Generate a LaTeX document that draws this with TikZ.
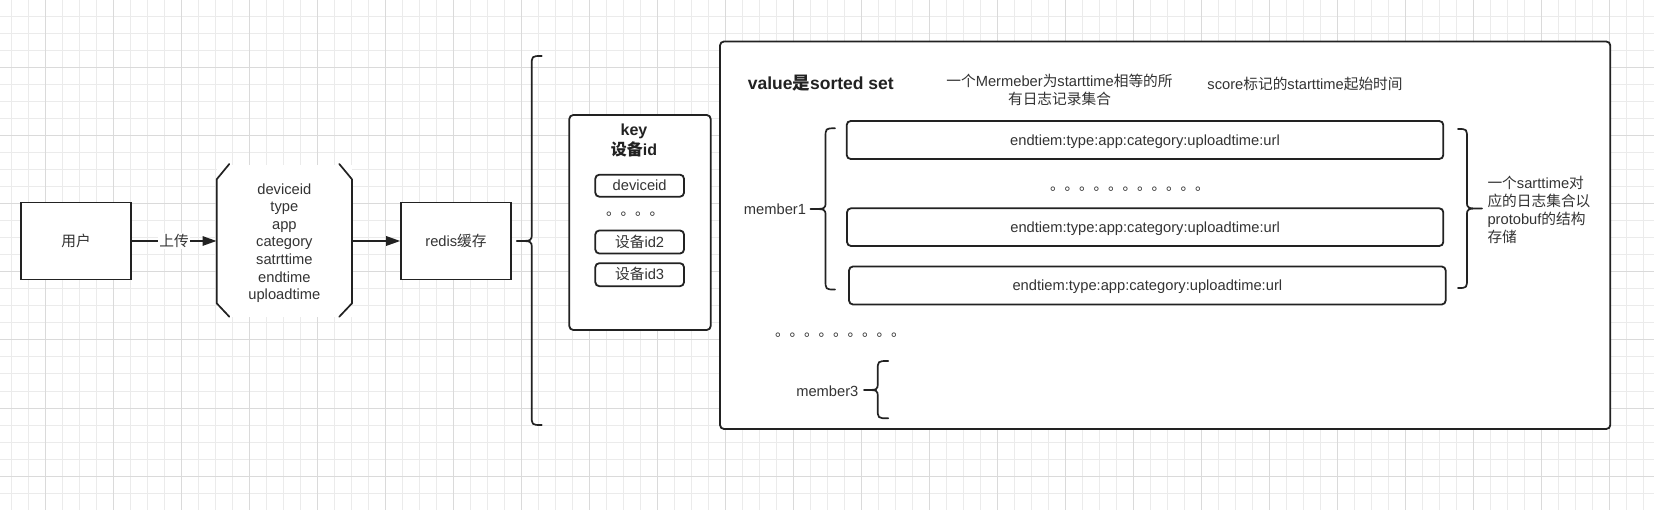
\documentclass[tikz,border=0pt]{standalone}
\usepackage{fontspec}
\setmainfont{Liberation Sans}
\newfontfamily\zhfont{Noto Sans CJK SC}
\usetikzlibrary{arrows.meta}
\newcommand\zh[1]{{\zhfont #1}}
\definecolor{ink}{HTML}{222222}
\definecolor{txt}{HTML}{333333}
\definecolor{gridminor}{HTML}{EBEBEB}
\definecolor{gridmajor}{HTML}{DADADA}
\tikzset{
  box/.style={draw=ink, line width=1.6pt, fill=white, inner sep=0pt, text=txt,
    font=\fontsize{14.7}{17.6}\selectfont},
  rbox/.style={box, rounded corners=4pt},
  ibox/.style={rbox, line width=1.8pt, text height=12pt, text depth=1.8pt},
  lbl/.style={text=txt, inner sep=0pt, font=\fontsize{14.7}{17.6}\selectfont},
  title/.style={text=ink, inner sep=0pt, font=\fontsize{16}{19.3}\selectfont\bfseries},
  dots/.style={text=txt, inner sep=0pt, anchor=base west, font=\fontsize{14.5}{17}\selectfont\zhfont},
  arr/.style={draw=ink, line width=1.5pt, -{Triangle[length=14pt,width=9.5pt]}},
  bracestyle/.style={draw=ink, line width=1.7pt, line cap=round, line join=round},
}
% curly brace: x of ends, x of spine, x of tip, y top, y tip, y bottom
\newcommand\curlyb[6]{\draw[bracestyle] (#1,#4) .. controls (#2,#4) .. (#2,#4+10) -- (#2,#5-7) .. controls (#2,#5) .. (#3,#5) .. controls (#2,#5) .. (#2,#5+7) -- (#2,#6-10) .. controls (#2,#6) .. (#1,#6);}
\begin{document}
\begin{tikzpicture}[x=1pt,y=-1pt]
\useasboundingbox (0,0) rectangle (1654,510);
\fill[white] (0,0) rectangle (1654,510);
% grid
\foreach \i in {0,...,96} \draw[gridminor, line width=1pt] ({11.3+17*\i},0) -- ({11.3+17*\i},510);
\foreach \j in {0,...,30} \draw[gridminor, line width=1pt] (0,{17*\j}) -- (1654,{17*\j});
\foreach \i in {0,...,23} \draw[gridmajor, line width=1pt] ({45.3+68*\i},0) -- ({45.3+68*\i},510);
\foreach \j in {0,...,7} \draw[gridmajor, line width=1pt] (0,{68*\j}) -- (1654,{68*\j});

% left part
\node[box, minimum width=110pt, minimum height=77pt] (user) at (76,241) {\zh{用户}};
\node[fill=white, inner sep=0pt, minimum width=135.3pt, minimum height=152.7pt]
  (fields) at (284.35,241) {};
\node[lbl, align=center] (fieldtext) at (284.35,243.2) {deviceid\\type\\app\\category\\satrttime\\endtime\\uploadtime};
\draw[bracestyle] (229.3,164) -- (216.7,179.3) -- (216.7,303.3) -- (229.3,316.7);
\draw[bracestyle] (339.3,164) -- (352,179.3) -- (352,303.3) -- (339.3,316.7);
\node[box, minimum width=110pt, minimum height=77pt] (redis) at (456,241) {redis\zh{缓存}};
\draw[arr] (user.east) -- node[fill=white, lbl, inner sep=1.5pt] (up) {\zh{上传}} (user.east -| fields.west);
\draw[arr] (fields.east |- redis.west) -- (redis.west);

% big brace
\curlyb{541.7}{531.7}{516.7}{56}{241}{425}

% key box
\node[rbox, line width=1.8pt, minimum width=141.4pt, minimum height=215pt] (key) at (640,222.5) {};
\node[title, align=center] (keyt) at (634,140.5) {key\\\zh{设备}id};
\node[ibox, minimum width=88.7pt, minimum height=22pt] (k1) at (639.65,185.7) {deviceid};
\node[dots] (kd) at (605.8,215.2) {。。。。};
\node[ibox, minimum width=88.7pt, minimum height=23pt] (k2) at (639.65,242) {\zh{设备}id2};
\node[ibox, minimum width=88.7pt, minimum height=23pt] (k3) at (639.65,274.7) {\zh{设备}id3};

% value box
\node[rbox, line width=1.8pt, minimum width=890.3pt, minimum height=387.5pt] (val) at (1165.15,235.25) {};
\node[title, font=\fontsize{17.5}{20}\selectfont\bfseries, anchor=west] (valt) at (747.7,83.3) {value\zh{是}sorted set};
\node[lbl, align=center] (note1) at (1059.5,90) {\zh{一个}Mermeber\zh{为}starttime\zh{相等的所}\\\zh{有日志记录集合}};
\node[lbl] (note2) at (1305,84.3) {score\zh{标记的}starttime\zh{起始时间}};

\node[ibox, minimum width=596.6pt, minimum height=38pt] (m1) at (1145,140) {endtiem:type:app:category:uploadtime:url};
\node[dots] (md) at (1049.8,190.5) {。。。。。。。。。。。};
\node[ibox, minimum width=596.3pt, minimum height=37.7pt] (m2) at (1145.15,227.15) {endtiem:type:app:category:uploadtime:url};
\node[ibox, minimum width=596.7pt, minimum height=38pt] (m3) at (1147.35,285.5) {endtiem:type:app:category:uploadtime:url};

\node[lbl] (mem1) at (775,209) {member1};
\curlyb{835}{825.5}{810.5}{128.3}{209}{289.5}
\curlyb{1458}{1467}{1482}{129}{208.5}{288}
\node[lbl, align=left, anchor=west, font=\fontsize{14.7}{18}\selectfont] (note3) at (1487.3,210.3)
  {\zh{一个}sarttime\zh{对}\\\zh{应的日志集合以}\\protobuf\zh{的结构}\\\zh{存储}};

\node[dots] (ld) at (774.8,336.5) {。。。。。。。。。};
\node[lbl] (mem3) at (827.3,391) {member3};
\curlyb{888.3}{877.7}{864}{361}{390}{418.3}
\end{tikzpicture}
\end{document}
